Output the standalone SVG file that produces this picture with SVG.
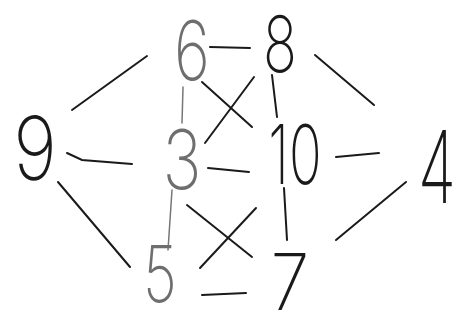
<svg xmlns="http://www.w3.org/2000/svg" width="459" height="323" viewBox="0 0 459 323">
<style>
.lbl{font-family:Inter,Lato,"DejaVu Sans",sans-serif;font-weight:200;text-anchor:middle}
.ink{fill:#1a1a1a}
.pencil{fill:#6e6e6e}
.e{stroke:#1a1a1a;stroke-width:2;fill:none;stroke-linecap:round}
.ep{stroke:#777;stroke-width:1.5;fill:none;stroke-linecap:round}
</style>
<rect width="459" height="323" fill="#fff"/>
<g id="edges">
<path class="e" d="M72,110 L147,56"/>
<path class="e" d="M67,153 L82,160 L132,164"/>
<path class="e" d="M58,182 L130,267"/>
<path class="e" d="M210,47 L250,48"/>
<path class="e" d="M202,82 L252,127"/>
<path class="e" d="M205,143 L254,77"/>
<path class="e" d="M208,168 L249,172"/>
<path class="e" d="M187,205 L252,257"/>
<path class="e" d="M200,268 L256,208"/>
<path class="e" d="M202,295 L246,293"/>
<path class="e" d="M272,75 L277,117"/>
<path class="e" d="M284,188 L287,240"/>
<path class="e" d="M315,55 L374,105"/>
<path class="e" d="M336,157 L379,153"/>
<path class="e" d="M336,240 L406,182"/>
<path class="ep" d="M183,87 L182,123"/>
<path class="ep" d="M172,190 L168,250"/>
</g>
<g id="n9"><text class="lbl ink" transform="translate(35,180) scale(0.85,1)" font-size="88">9</text></g>
<g id="n6"><text class="lbl pencil" transform="translate(192,80) scale(0.75,1)" font-size="82">6</text></g>
<g id="n3"><text class="lbl pencil" transform="translate(182,189) scale(0.8,1)" font-size="82">3</text></g>
<g id="n5"><text class="lbl pencil" transform="translate(160,302) scale(0.75,1)" font-size="78">5</text></g>
<g id="n8"><text class="lbl ink" transform="translate(280,72) scale(0.72,1)" font-size="78">8</text></g>
<g id="n10"><text class="lbl ink" transform="translate(295,184) scale(0.66,1)" font-size="82">10</text></g>
<g id="n7"><text class="lbl ink" transform="translate(290,310) scale(0.9,1)" font-size="78">7</text></g>
<g id="n4"><text class="lbl ink" transform="translate(437,203) scale(0.62,1)" font-size="100">4</text></g>
</svg>
